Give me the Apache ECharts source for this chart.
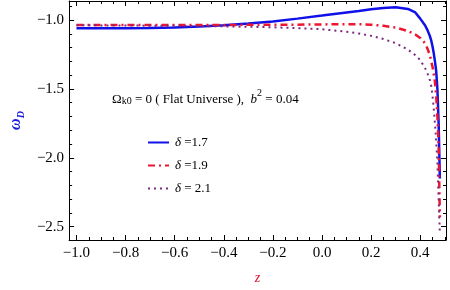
<!DOCTYPE html>
<html><head><meta charset="utf-8">
<script src="https://cdn.jsdelivr.net/npm/echarts@6/dist/echarts.min.js"></script>
<style>html,body{margin:0;padding:0;background:#fff}#c{width:450px;height:290px}</style>
</head><body><div id="c"></div>
<script>
const zValues = [-1.0,-0.9,-0.8,-0.7,-0.6,-0.5,-0.4,-0.3,-0.2,-0.1,0.0,0.1,0.15,0.2,0.25,0.3,0.35,0.38,0.4,0.42,0.43,0.44,0.445,0.45,0.455,0.46,0.465,0.47,0.475,0.48];
const omegaDelta17 = [-1.06,-1.06,-1.06,-1.058,-1.054,-1.047,-1.038,-1.026,-1.01,-0.99,-0.968,-0.945,-0.934,-0.922,-0.912,-0.908,-0.92,-0.945,-0.99,-1.04,-1.075,-1.12,-1.15,-1.19,-1.24,-1.3,-1.37,-1.5,-1.75,-2.15];
const omegaDelta19 = [-1.036,-1.036,-1.036,-1.036,-1.036,-1.036,-1.036,-1.035,-1.035,-1.034,-1.032,-1.03,-1.031,-1.034,-1.042,-1.055,-1.08,-1.105,-1.13,-1.17,-1.21,-1.26,-1.3,-1.34,-1.39,-1.45,-1.55,-1.7,-1.92,-2.43];
const omegaDelta21 = [-1.038,-1.039,-1.04,-1.041,-1.042,-1.044,-1.046,-1.049,-1.053,-1.059,-1.067,-1.085,-1.098,-1.115,-1.138,-1.168,-1.215,-1.255,-1.29,-1.35,-1.39,-1.44,-1.48,-1.55,-1.64,-1.75,-1.88,-2.04,-2.3,-2.55];
const seriesNames = ['δ =1.7','δ =1.9','δ = 2.1'];
const xTicks = [-1.0,-0.8,-0.6,-0.4,-0.2,0.0,0.2,0.4];
const yTicks = [-2.5,-2.0,-1.5,-1.0];

const xMin = -1.03, xMax = 0.505, yMin = -2.597, yMax = -0.862;
const xMinor = [], yMinor = [];
for (let i = -20; i <= 10; i++) { const v = +(i*0.05).toFixed(2); if (!xTicks.some(t => Math.abs(t-v) < 1e-6)) xMinor.push(v); }
for (let i = -25; i <= -9; i++) { const v = +(i*0.1).toFixed(1); if (!yTicks.some(t => Math.abs(t-v) < 1e-6)) yMinor.push(v); }

const fmt = v => (v < 0 ? '\u2212' + Math.abs(v).toFixed(1) : v.toFixed(1));
const serif = 'Liberation Serif';
function xAx(pos, vals, len, labels, line) {
  return { type:'value', position:pos, min:xMin, max:xMax, gridIndex:0,
    axisLine:{show:line, onZero:false, lineStyle:{color:'#000', width:1}},
    axisTick:{show:true, inside:true, length:len, customValues:vals, lineStyle:{color:'#000'}},
    axisLabel:{show:labels, customValues:vals, formatter:fmt, fontFamily:serif, fontSize:15, color:'#000', margin:6},
    splitLine:{show:false} };
}
function yAx(pos, vals, len, labels, line) {
  return { type:'value', position:pos, min:yMin, max:yMax, gridIndex:0,
    axisLine:{show:line, onZero:false, lineStyle:{color:'#000', width:1}},
    axisTick:{show:true, inside:true, length:len, customValues:vals, lineStyle:{color:'#000'}},
    axisLabel:{show:labels, customValues:vals, formatter:fmt, fontFamily:serif, fontSize:15, color:'#000', margin:5},
    splitLine:{show:false} };
}
const xa = [xAx('bottom', xTicks, 5, true, true), xAx('bottom', xMinor, 3, false, false), xAx('top', xTicks, 5, false, true), xAx('top', xMinor, 3, false, false)];
xa[0].name = '{z|z}'; xa[0].nameLocation = 'middle'; xa[0].nameGap = 31;
xa[0].nameTextStyle = {rich:{z:{fontFamily:serif, fontStyle:'italic', fontSize:14, color:'#e01030'}}};
const ya = [yAx('left', yTicks, 5, true, true), yAx('left', yMinor, 3, false, false), yAx('right', yTicks, 5, false, true), yAx('right', yMinor, 3, false, false)];
ya[0].name = '{w|ω}{d|D}'; ya[0].nameLocation = 'middle'; ya[0].nameGap = 41; ya[0].nameRotate = 90;
ya[0].nameTextStyle = {rich:{
  w:{fontFamily:serif, fontStyle:'italic', fontWeight:'bold', fontSize:16, color:'#1a1ae0', verticalAlign:'top', lineHeight:18},
  d:{fontFamily:serif, fontStyle:'italic', fontWeight:'bold', fontSize:10, color:'#1a1ae0', verticalAlign:'bottom', lineHeight:18, padding:[6,0,0,0]}}};

const mk = (name, data, color, type, width) => ({
  name, type:'line', xAxisIndex:0, yAxisIndex:0, showSymbol:false, symbol:'none', smooth:false,
  data: zValues.map((z,i) => [z, data[i]]),
  lineStyle:{color, type, width}, itemStyle:{color}
});

const chart = echarts.init(document.getElementById('c'), null, {renderer:'canvas'});
chart.setOption({
  animation:false,
  grid:{left:61, right:4, top:1, bottom:50, containLabel:false},
  xAxis:xa, yAxis:ya,
  legend:{orient:'vertical', left:142, top:131, itemWidth:21, itemHeight:14, itemGap:10,
    itemStyle:{opacity:0},
    textStyle:{fontFamily:serif, fontSize:13, color:'#000', padding:[0,0,0,1],
      rich:{i:{fontFamily:serif, fontStyle:'italic', fontSize:13}}},
    formatter: n => '{i|δ}' + n.slice(1),
    data:seriesNames},
  series:[
    mk(seriesNames[0], omegaDelta17, '#1010e8', 'solid', 2.5),
    mk(seriesNames[1], omegaDelta19, '#ee1530', [7,4,2,4], 2.5),
    mk(seriesNames[2], omegaDelta21, '#7a2a80', [2,4], 2)
  ],
  graphic:[{type:'text', left:112, top:88, style:{
    text:'{n|Ω}{s|k0}{n| = 0 ( Flat Universe ),  }{i|b}{p|2}{n| = 0.04}',
    rich:{
      n:{fontFamily:serif, fontSize:13, fill:'#000', lineHeight:18, verticalAlign:'bottom'},
      s:{fontFamily:serif, fontSize:10, fill:'#000', lineHeight:18, verticalAlign:'bottom', padding:[4,0,0,0]},
      i:{fontFamily:serif, fontStyle:'italic', fontSize:13, fill:'#000', lineHeight:18, verticalAlign:'bottom'},
      p:{fontFamily:serif, fontSize:10, fill:'#000', lineHeight:18, verticalAlign:'top'}
    }}}]
});
</script></body></html>
